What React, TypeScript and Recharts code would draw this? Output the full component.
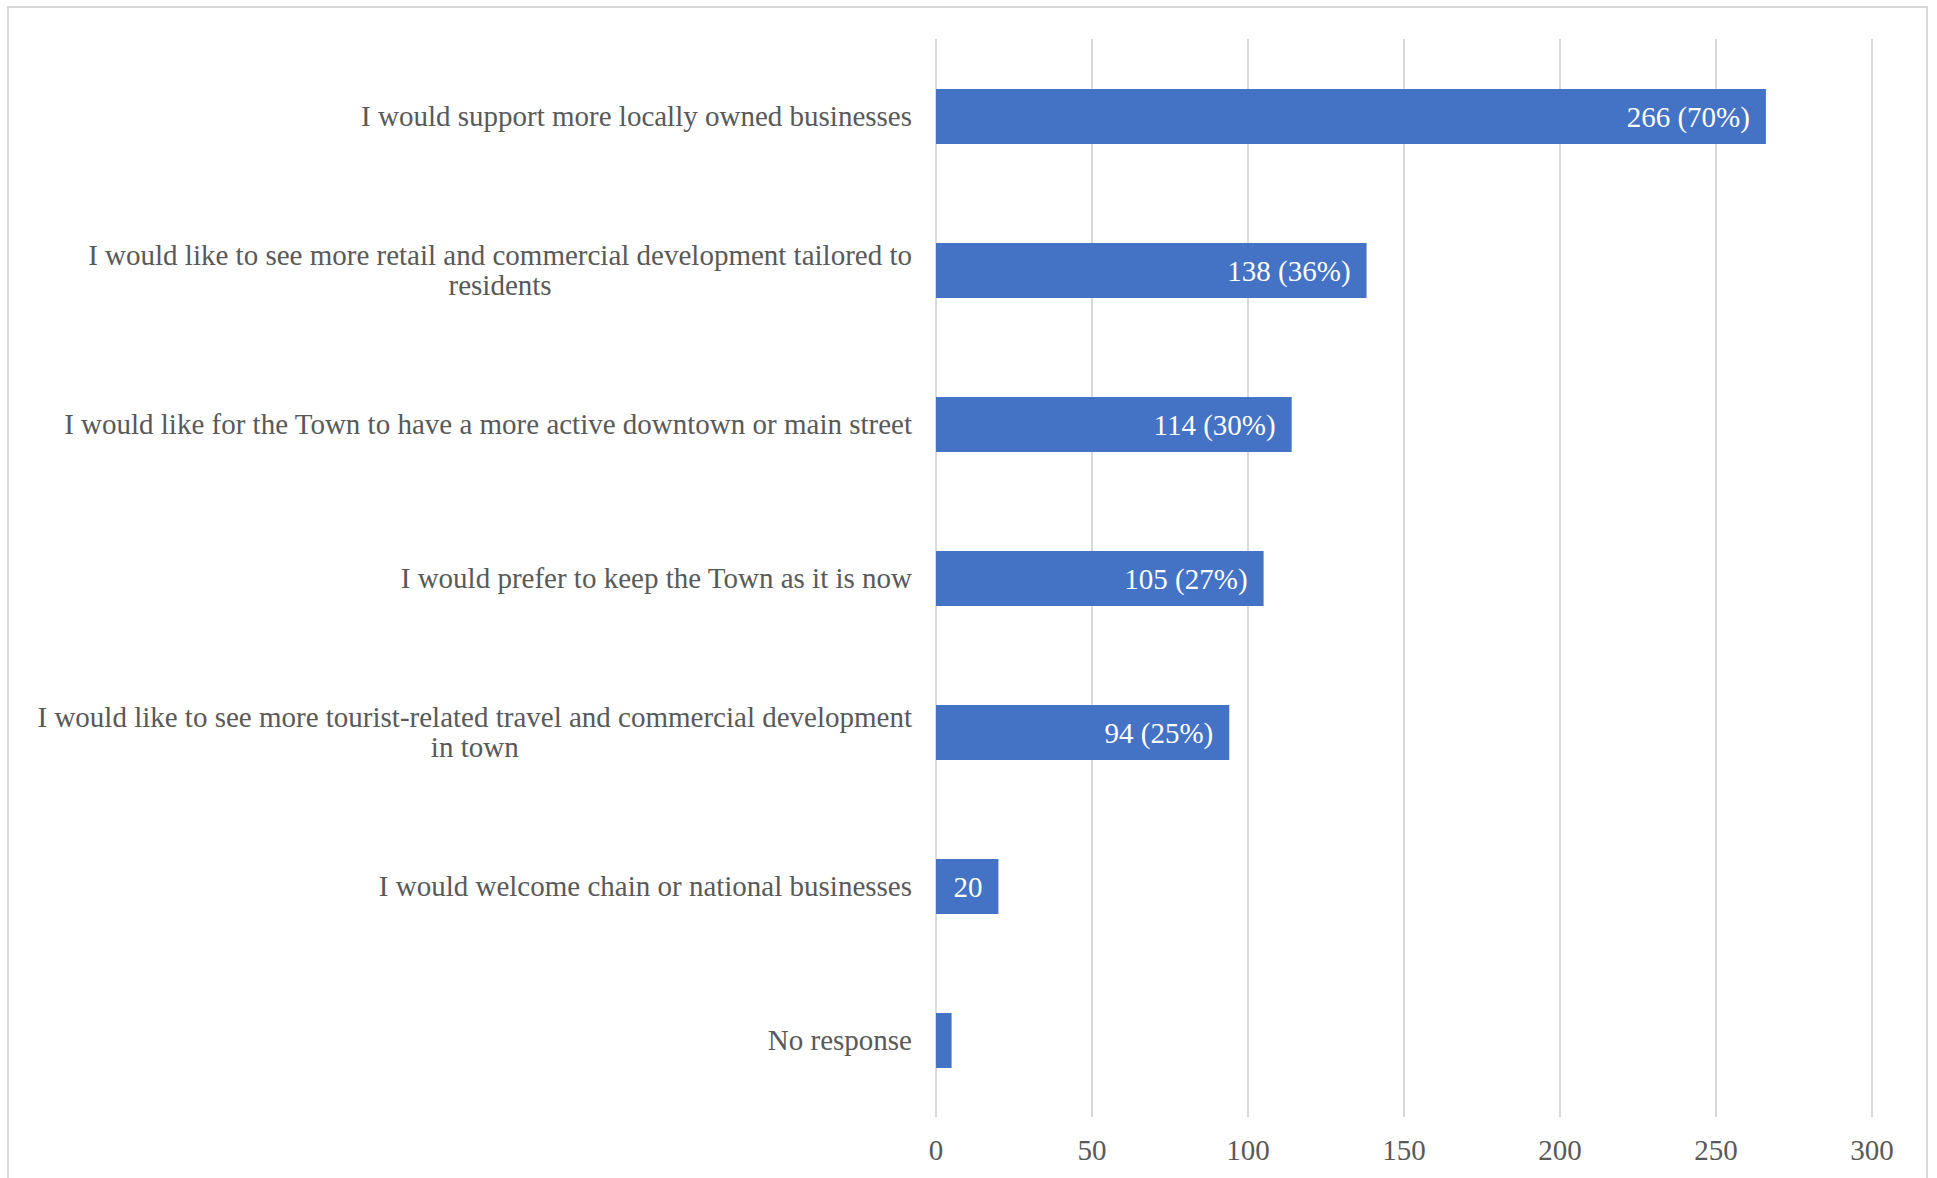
import React from 'react';
import { BarChart, Bar, XAxis, YAxis, CartesianGrid, LabelList } from 'recharts';

const categories = [
  'I would support more locally owned businesses',
  'I would like to see more retail and commercial development tailored to\nresidents',
  'I would like for the Town to have a more active downtown or main street',
  'I would prefer to keep the Town as it is now',
  'I would like to see more tourist-related travel and commercial development\nin town',
  'I would welcome chain or national businesses',
  'No response',
];
const counts = [266, 138, 114, 105, 94, 20, 5];
const valueLabels = ['266 (70%)', '138 (36%)', '114 (30%)', '105 (27%)', '94 (25%)', '20', ''];
const xTicks = [0, 50, 100, 150, 200, 250, 300];

const data = categories.map((name, i) => ({ name, count: counts[i], label: valueLabels[i] }));

const FONT = '"Liberation Serif", "Times New Roman", serif';
const FONT_SIZE = 29;
const TEXT = '#595959';
const GRID = '#d9d9d9';

let ctx: CanvasRenderingContext2D | null = null;
function measure(s: string) {
  if (!ctx) ctx = document.createElement('canvas').getContext('2d');
  if (!ctx) return s.length * 12;
  ctx.font = `${FONT_SIZE}px ${FONT}`;
  return ctx.measureText(s).width;
}

// category labels: right aligned, wrapped lines centred on each other like Excel
function CategoryTick(props: any) {
  const { x, y, payload } = props;
  const lines = String(payload.value).split('\n');
  const lineH = 30;
  if (lines.length === 1) {
    return (
      <text x={x} y={y} dy="0.35em" textAnchor="end" fill={TEXT} fontFamily={FONT} fontSize={FONT_SIZE}>
        {lines[0]}
      </text>
    );
  }
  const w = Math.max(...lines.map(measure));
  const cx = x - w / 2;
  const y0 = y - ((lines.length - 1) * lineH) / 2;
  return (
    <text textAnchor="middle" fill={TEXT} fontFamily={FONT} fontSize={FONT_SIZE}>
      {lines.map((l, i) => (
        <tspan key={i} x={cx} y={y0 + i * lineH} dy="0.35em">
          {l}
        </tspan>
      ))}
    </text>
  );
}

function ValueTick(props: any) {
  const { x, y, payload } = props;
  return (
    <text x={x} y={y + 35} textAnchor="middle" fill={TEXT} fontFamily={FONT} fontSize={FONT_SIZE}>
      {payload.value}
    </text>
  );
}

export default function App() {
  return (
    <div style={{ position: 'fixed', left: 0, top: 0, width: 1937, height: 1178, background: '#fff', overflow: 'hidden' }}>
      <div
        style={{
          position: 'absolute',
          left: 7,
          top: 6,
          width: 1921,
          height: 1200,
          border: `2px solid ${GRID}`,
          boxSizing: 'border-box',
        }}
      />
      <div style={{ position: 'absolute', left: 0, top: 0 }}>
        <BarChart
          width={1937}
          height={1178}
          data={data}
          layout="vertical"
          margin={{ top: 39, right: 65, bottom: 21, left: 0 }}
        >
          <CartesianGrid horizontal={false} stroke={GRID} strokeWidth={2} />
          <XAxis
            type="number"
            domain={[0, 300]}
            ticks={xTicks}
            axisLine={false}
            tickLine={false}
            height={40}
            tick={<ValueTick />}
            interval={0}
          />
          <YAxis
            type="category"
            dataKey="name"
            width={936}
            axisLine={false}
            tickLine={false}
            tickSize={0}
            tickMargin={24}
            tick={<CategoryTick />}
            interval={0}
          />
          <Bar dataKey="count" fill="#4472c4" barSize={55} isAnimationActive={false}>
            <LabelList
              dataKey="label"
              position="insideRight"
              offset={16}
              fill="#ffffff"
              fontFamily={FONT}
              fontSize={FONT_SIZE}
            />
          </Bar>
        </BarChart>
      </div>
    </div>
  );
}
